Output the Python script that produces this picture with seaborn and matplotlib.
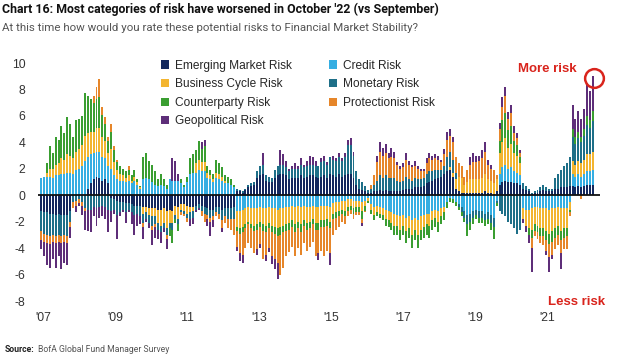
import numpy as np
import pandas as pd
import matplotlib
matplotlib.use("Agg")
import matplotlib.pyplot as plt
from matplotlib.patches import Patch
import seaborn as sns

# ---------------- data (monthly, Jan 2007 - Oct 2022) ----------------
series_names = ["Emerging Market Risk", "Credit Risk", "Business Cycle Risk", "Monetary Risk",
                "Counterparty Risk", "Protectionist Risk", "Geopolitical Risk"]

em = [-1.2, -1.3, -1.3, -1.4, -1.4, -1.5, -1.4, -1.5, -1.5, -1.5,
      -1.2, 0, 0, 0, 0, 0, 0.5, 0.9, 1.2, 1.4,
      1.3, 1.1, 1.2, 0.9, -0.2, -0.3, -0.4, -0.5, -0.5, -0.6,
      -0.6, -0.7, -0.8, -0.8, -0.8, -0.9, -0.9, -1.0, -1.0, -1.0,
      -1.1, -1.1, -1.0, -1.2, -1.1, -1.2, -0.8, -0.9, -0.7, -0.7,
      -0.8, -0.9, -0.9, -0.8, -0.7, -0.8, -0.9, -1.0, -1.1, -1.1,
      -0.9, -0.9, -1.1, -1.0, -1.0, -1.0, -0.9, 0.3, 0.3, 0.2,
      0.4, 0.6, 0.7, 0.8, 1.3, 1.5, 1.6, 1.1, 1.0, 1.0,
      1.3, 1.5, 1.6, 1.6, 1.5, 1.2, 1.3, 1.3, 1.3, 1.5,
      1.3, 1.4, 1.5, 1.5, 1.4, 1.3, 1.4, 1.5, 1.3, 1.6,
      1.5, 1.4, 1.6, 1.4, 1.5, 1.6, 1.6, 1.3, 0.8, 0.5,
      0.4, 0.3, 0.2, 0.2, 0.3, 0.3, 0.4, 0.3, 0.4, 0.3,
      0.3, 0.3, 0.3, 0.3, 0.4, 0.5, 0.5, 0.5, 0.6, 0.6,
      0.6, 0.7, 0.9, 1.0, 1.1, 1.2, 1.3, 1.4, 1.6, 1.8,
      1.9, 1.4, 0.5, 0.3, 0.2, 0.2, 0.2, 0.2, 0.2, 0.2,
      0.2, 0.2, 0.3, 0.2, 0.2, 0.1, 0.3, 0.8, 1.0, 1.1,
      1.0, 1.0, 0.9, 0.9, 0.8, 0.5, 0.4, 0.3, 0.1, 0.2,
      0.2, 0.3, 0.4, 0.3, 0.3, 0.3, 0.5, 0.5, 0.6, 0.6,
      0.6, 0.7, 0.7, 0.6, 0.7, 0.6, 0.7, 0.8, 0.8, 0.8]

credit = [1.3, 1.4, 1.4, 1.4, 1.3, 1.5, 1.5, 1.6, 1.6, 1.7,
          1.7, 1.6, 1.9, 2.0, 2.2, 2.6, 2.4, 2.2, 2.0, 1.9,
          2.0, 1.8, 1.6, 1.3, 2.0, 1.5, 1.2, 1.1, 1.1, 1.0,
          1.1, 0.9, 1.1, 0.8, 0.5, 1.2, 1.3, 1.2, 1.0, 0.8,
          0.7, 0.8, 0.7, 0.5, 1.2, 1.1, 1.1, 1.1, 0.9, 0.6,
          1.0, 1.6, 1.7, 1.7, 1.9, 1.8, 1.8, 1.3, 1.2, 1.0,
          1.3, 1.2, 1.1, 0.9, 0.9, 0.8, 0.6, -1.2, -1.2, -1.1,
          -1.0, -0.9, -1.0, -1.0, -1.0, -0.9, -1.0, -1.0, -0.9, -1.0,
          -1.0, -1.1, -1.0, -1.0, -0.9, -0.9, -0.8, -0.9, -0.8, -0.9,
          -0.8, -0.9, -0.9, -0.8, -0.9, -0.9, -0.8, -0.8, -0.8, -0.9,
          -0.6, -0.5, -0.5, -0.4, -0.4, -0.3, -0.3, -0.4, -0.4, -0.4,
          -0.5, -0.4, -0.2, -0.7, -0.9, -0.8, -0.9, -1.0, -1.1, -1.2,
          -1.3, -1.4, -1.5, -1.6, -1.5, -1.7, -1.6, -1.9, -1.7, -1.9,
          -1.6, -1.5, -1.4, -1.4, -1.2, -1.1, -1.2, -1.0, -0.9, -0.5,
          -0.2, -0.3, -0.5, -0.7, -0.9, -1.2, -1.5, -1.4, -1.2, -1.1,
          -1.2, -1.2, -1.4, -1.3, -1.5, -1.7, -0.4, 0.8, 1.1, 1.2,
          1.0, 1.1, 0.9, 0.8, 0.7, -1.0, -1.1, -1.1, -1.0, -0.9,
          -0.9, -1.0, -1.0, -1.0, -1.1, -1.0, -1.0, -0.9, -1.0, -1.0,
          -1.0, -0.5, 0.9, 0.8, 0.9, 0.8, 0.9, 1.0, 1.0, 1.1]

business = [0, 0, 0.3, 0.6, 0.7, 0.8, 0.9, 1.2, 1.1, 1.4,
            1.3, 1.2, 1.4, 1.5, 1.6, 1.9, 1.8, 1.7, 1.6, 1.8,
            1.8, 1.5, 1.3, 1.0, 1.5, 1.0, 0.7, 0.5, 0.4, 0.3,
            0.4, 0.2, 0.3, 0.2, 0.1, -0.5, -0.4, -0.5, -0.6, -0.6,
            -1.0, -1.2, -1.1, -1.3, -1.0, -0.9, -0.7, -0.9, -0.4, -0.5,
            -0.6, -0.4, -0.3, 0.7, 0.8, 0.7, 0.7, 0.4, 0.3, 0.2,
            0.4, 0.4, 0.3, 0.2, 0, 0, 0, -1.2, -1.3, -1.3,
            -1.2, -1.1, -1.2, -1.3, -1.2, -1.1, -1.2, -1.3, -1.2, -1.3,
            -1.4, -1.4, -1.4, -1.3, -1.3, -1.2, -1.1, -1.3, -1.2, -1.3,
            -1.1, -1.2, -1.1, -1.0, -1.2, -1.2, -1.1, -1.1, -1.0, -1.1,
            -0.8, -0.8, -0.7, -0.7, -0.8, -0.6, -0.5, -0.6, -0.5, -0.5,
            -0.7, -0.4, -0.2, -0.4, -0.6, -0.5, -0.5, -0.5, -0.7, -0.7,
            -0.8, -0.9, -0.8, -1.0, -0.8, -1.0, -0.9, -1.1, -0.9, -1.1,
            -1.0, -0.9, -0.8, -0.9, -0.7, -0.6, -0.8, -0.6, -0.4, 0,
            0.2, 0.3, 0.7, 1.1, 1.1, 0.6, 0.8, 1.0, 1.0, 1.0,
            1.0, 1.1, 1.3, 1.0, 0.9, 0.8, 0.9, 1.6, 1.9, 2.0,
            1.6, 1.8, 1.4, 1.3, 0.9, -0.8, -1.2, -1.4, -1.6, -1.3,
            -1.4, -1.5, -1.5, -1.7, -1.8, -1.7, -1.5, -1.4, -1.7, -1.5,
            -1.5, -0.6, 1.0, 0.9, 1.0, 1.0, 1.1, 1.3, 1.3, 1.4]

monetary = [-1.5, -1.6, -1.7, -1.7, -1.6, -1.6, -1.6, -1.6, -1.5, -1.6,
            -0.8, -0.5, -0.4, -0.3, -0.5, -1.0, -1.1, -1.1, -0.9, -1.0,
            -0.9, -0.8, -0.9, -1.1, -1.0, -0.8, -1.1, -0.8, -0.6, -0.7,
            -0.5, -0.6, -0.7, -0.6, -0.8, -0.7, -0.5, -0.6, -0.7, -0.6,
            -0.5, -0.5, -0.4, -0.5, -0.4, -0.5, -0.3, -0.4, -0.2, -0.2,
            -0.3, -0.5, -0.5, -0.3, -0.3, -0.4, -0.5, -0.5, -0.6, -0.5,
            -0.4, -0.5, -0.8, -0.6, -0.8, -0.8, -0.9, 0.2, 0.1, 0.1,
            0.1, 0.2, 0.2, 0.2, 0.5, 0.7, 0.7, 0.4, 0.4, 0.3,
            0.6, 0.7, 0.7, 0.7, 0.6, 0.6, 0.7, 0.7, 0.7, 0.8,
            0.8, 0.8, 0.8, 0.8, 0.8, 0.9, 1.1, 1.1, 1.0, 1.3,
            1.2, 1.2, 1.3, 1.2, 1.4, 2.2, 2.2, 1.7, 1.0, 0.7,
            0.6, 0.4, 0.2, 0.3, 0.5, 0.8, 1.1, 1.0, 1.1, 1.0,
            1.0, 1.0, 0.8, 0.7, 0.7, 0.9, 0.7, 0.6, 0.7, 0.6,
            0.6, 0.6, 0.7, 0.8, 0.7, 0.7, 0.6, 0.5, 0.6, 1.1,
            1.2, 1.0, 0.5, -0.2, -0.4, -0.5, -0.7, -0.6, -0.5, -0.4,
            -0.5, -0.5, -0.5, -0.5, -0.6, -0.7, -0.2, -1.2, -1.4, -1.6,
            -2.0, -2.2, -2.5, -2.9, -2.6, 0.4, 0.3, 0.2, 0.1, 0.1,
            0.2, 0.3, 0.4, 0.3, 0.2, 0.2, 0.8, 1.1, 1.3, 1.6,
            1.8, 2.2, 1.8, 1.6, 1.7, 1.6, 1.8, 2.2, 2.0, 2.3]

counterparty = [0, 0, 0.7, 1.7, 1.2, 2.1, 1.8, 2.4, 2.0, 2.8,
                2.4, 1.6, 2.4, 2.3, 2.2, 3.2, 2.8, 2.5, 2.2, 2.2,
                2.3, 1.7, 1.3, 0.9, 1.3, 0.9, 0.6, 0.6, 0.5, 0.5,
                0.4, 0.4, 0.5, 0.2, 0.1, 1.7, 1.9, 1.4, 1.3, 1.0,
                0.5, 0.8, 0.5, 0.3, -0.6, -1.0, -0.3, -0.5, 0.3, 0.2,
                0.4, 1.2, 1.4, 1.0, 1.4, 1.0, 1.2, 0.5, 0.4, 0.4,
                1.0, 0.8, 0.7, 0.4, 0.5, 0.4, 0.2, -0.3, -0.4, -0.4,
                -0.3, -0.2, -0.3, -0.4, -0.4, -0.4, -0.5, -0.5, -0.4, -0.5,
                -0.5, -0.6, -0.6, -0.5, -0.5, -0.5, -0.5, -0.6, -0.5, -0.6,
                -0.4, -0.5, -0.5, -0.4, -0.5, -0.5, -0.5, -0.5, -0.5, -0.5,
                -0.4, -0.4, -0.4, -0.3, -0.4, -0.3, -0.3, -0.4, -0.4, -0.4,
                -0.6, -0.4, -0.2, -0.3, -0.4, -0.3, -0.3, -0.4, -0.5, -0.5,
                -0.5, -0.7, -0.7, -0.8, -0.7, -0.9, -0.7, -1.0, -0.8, -1.0,
                -0.8, -0.8, -0.8, -0.9, -0.7, -0.7, -0.8, -0.6, -0.6, -0.5,
                -0.3, -0.3, -0.3, -0.2, -0.3, -0.3, -0.9, -0.6, -0.5, -0.3,
                -0.4, -0.4, -0.4, -0.4, -0.5, -0.9, -0.2, 0.9, 1.7, 1.9,
                1.3, 1.3, 0.9, 0.8, 0.5, 0, 0, -0.5, -0.6, -0.5,
                -0.5, -0.6, -0.6, -0.7, -0.8, -0.8, -0.7, -0.7, -0.7, -0.7,
                -0.6, -0.2, 0.6, 0.5, 0.5, 0.4, 0.5, 0.7, 0.6, 0.8]

protectionist = [-0.7, -0.6, -0.6, -0.6, -0.5, -0.5, -0.5, -0.5, -0.5, -0.5,
                 -0.4, -0.5, -0.4, -0.3, -0.3, -0.2, 0, 0, 0.5, 0.9,
                 1.4, 0.6, 0.5, 0.3, 0.6, 0.3, 0.2, 0, 0, 0,
                 0.3, 0, 0, 0, 0, -0.3, 0, 0, -0.3, -0.2,
                 0, 0, 0, -0.3, 0, 0, 0, 0, -0.2, -0.2,
                 -0.3, 0, 0, 0, 0, -0.4, -0.6, -0.3, -0.3, -0.3,
                 -0.3, -0.4, -0.6, -0.5, -0.7, -0.8, -1.2, -1.2, -1.5, -1.7,
                 -1.5, -1.4, -1.5, -1.7, -1.5, -1.3, -2.1, -1.7, -1.5, -1.8,
                 -1.9, -2.0, -3.0, -2.7, -1.9, -1.7, -1.5, -1.8, -1.5, -1.7,
                 -1.3, -1.6, -1.4, -1.3, -2.0, -1.8, -1.8, -2.2, -1.9, -1.9,
                 -1.2, -0.9, -0.8, -0.6, -0.6, -0.4, -0.3, -0.4, -0.2, -0.2,
                 -0.3, -0.1, 0, 0.3, 0.7, 1.4, 1.8, 1.7, 1.7, 1.5,
                 1.6, 1.5, 1.2, 1.0, 1.0, 1.3, 1.1, 1.0, 0.9, 0.8,
                 0.6, 0.5, 0.8, 1.0, 0.9, 0.9, 0.8, 0.6, 0.9, 1.3,
                 1.2, 1.3, 1.2, 1.0, 0.9, 0.6, 0.9, 1.1, 1.3, 1.3,
                 1.4, 1.5, 1.7, 1.1, 0.9, 1.0, 0.3, 0.9, 1.0, 1.3,
                 0.9, 1.0, 0.6, 0.5, 0.3, 0, 0, 0, -0.8, -0.4,
                 -0.5, -0.5, -0.7, -0.8, -1.0, -1.0, -0.9, -0.8, -1.0, -0.9,
                 -1.0, -0.3, 0, 0, 0, -0.3, 0, 0, 0, 0]

geopolitical = [-0.7, -1.1, -1.7, -1.8, -1.3, -1.9, -1.1, -2.0, -1.6, -1.7,
                -0.8, 0, -0.5, -0.2, -0.7, -1.4, -1.6, -1.7, -0.7, -1.3,
                -0.8, -0.8, -0.9, -1.7, -0.8, -0.3, -1.8, -0.3, -0.2, -0.8,
                -0.2, -0.9, -1.5, -0.9, -0.6, -0.9, -0.2, -0.4, -1.2, -0.8,
                -0.7, -0.8, -0.3, -0.8, 0, 1.7, 1.5, 0.5, 0, 0,
                0, -0.5, -0.5, -0.2, -0.1, 0.5, 0.5, -0.5, -1.1, -0.5,
                0, 0, -0.3, 0, 0, 0, 0, -0.3, -0.6, -0.6,
                0, 0, 0, 0, -0.4, -0.3, 0.9, -0.5, -0.3, -0.6,
                -0.8, -1.2, 1.1, 0.8, 0.5, 0.2, 0.2, 0.4, 0.2, 0.5,
                0.2, 0.4, 0.7, 0.6, 0.4, -0.5, 0.3, 0.4, 0.2, -0.9,
                0.3, 0.2, 0.3, 0.2, 0.3, 0.4, 0.5, 0.3, 0, 0,
                -0.2, 0, 0, 0, 0, 0.5, 0.7, 0.6, 0.7, 0.4,
                0.7, 0.5, 0.2, 0.2, 0.3, 0.5, 0.3, 0.2, 0.4, 0.2,
                0.2, 0.2, 0.4, 0.4, 0.3, 0.3, 0.3, 0.2, 0.4, 0.6,
                0.5, 0.4, 0, 0, 0, 0, 0, 0.6, 0.7, 0.5,
                0.4, 0.6, 0.7, 0.4, 0.3, 0, 0, 0.5, 0.7, 0.7,
                0.5, 0.6, 0.5, 0.4, 0.2, -0.3, -0.5, -0.6, -1.8, 0,
                0, 0, 0, -0.3, -1.1, -0.3, 0, 0, -1.2, 0,
                0, 0, 1.8, 1.4, 1.6, 1.4, 1.5, 2.5, 2.2, 2.6]

year_labels = ["'07", "'09", "'11", "'13", "'15", "'17", "'19", "'21"]
year_positions = [0.7, 25.3, 50.0, 74.7, 99.3, 124.0, 148.6, 173.3]
y_ticks = [-8, -6, -4, -2, 0, 2, 4, 6, 8, 10]

colors = ["#13285e", "#35aee2", "#f3b530", "#1e6f88", "#3a9e31", "#e6862a", "#5e2e79"]

# ---------------- figure ----------------
sns.set_theme(style="white")
plt.rcParams["font.family"] = ["Liberation Sans", "DejaVu Sans"]
plt.rcParams["axes.unicode_minus"] = False

fig = plt.figure(figsize=(6.17, 3.59), dpi=100)
ax = fig.add_axes([38 / 617, 1 - 301 / 359, (600 - 38) / 617, (301 - 63) / 359])

data = np.array([em, credit, business, monetary, counterparty, protectionist, geopolitical], dtype=float)
n = data.shape[1]
idx = np.arange(n)
pos_cum = np.cumsum(np.clip(data, 0, None), axis=0)
neg_cum = np.cumsum(np.clip(data, None, 0), axis=0)

for k in range(6, -1, -1):
    for cum in (pos_cum, neg_cum):
        df = pd.DataFrame({"x": idx, "y": cum[k]})
        sns.barplot(data=df, x="x", y="y", color=colors[k], saturation=1, width=0.68,
                    errorbar=None, linewidth=0, ax=ax)

ax.axhline(0, color="#111111", lw=1.3, zorder=10)
ax.set_xlim(-1.03, 191.4)
ax.set_ylim(-8, 10)
ax.set_yticks(y_ticks)
ax.set_yticklabels([str(t) for t in y_ticks], fontsize=8.8, color="#333333")
ax.set_xticks(year_positions)
ax.set_xticklabels(year_labels, fontsize=8.8, color="#333333")
ax.tick_params(axis="both", length=0)
ax.tick_params(axis="y", pad=9)
ax.tick_params(axis="x", pad=8)
ax.set_xlabel("")
ax.set_ylabel("")
for s in ax.spines.values():
    s.set_visible(False)
ax.grid(False)

# red circle + annotations
ax.plot([189.2], [8.9], marker="o", markersize=13.5, markerfacecolor="none",
        markeredgecolor="#d9241c", markeredgewidth=1.8, zorder=12, clip_on=False)
fig.text(547 / 617, 1 - 69 / 359, "More risk", color="#d9241c", fontsize=9.5,
         fontweight="bold", ha="center", va="center")
fig.text(577 / 617, 1 - 302 / 359, "Less risk", color="#d9241c", fontsize=9.5,
         fontweight="bold", ha="center", va="center")

# legend (row-wise order like the original)
order = [0, 2, 4, 6, 1, 3, 5]
handles = [Patch(facecolor=colors[k], edgecolor="none", label=series_names[k]) for k in order]
fig.legend(handles=handles, ncol=2, loc="upper left", bbox_to_anchor=(156 / 617, 1 - 55 / 359),
           frameon=False, fontsize=8.6, handlelength=0.7, handleheight=0.7, handletextpad=0.5,
           columnspacing=3.1, labelspacing=0.55, borderaxespad=0)

# titles
tfont = ["Roboto", "DejaVu Sans"]
fig.text(0.003, 1 - 3 / 359, "Chart 16: Most categories of risk have worsened in October '22 (vs September)",
         fontsize=8.9, fontweight="bold", family=tfont, ha="left", va="top", color="#111111")
fig.text(0.003, 1 - 23 / 359, "At this time how would you rate these potential risks to Financial Market Stability?",
         fontsize=8.25, family=tfont, ha="left", va="top", color="#555555")
src = fig.text(0.008, 1 - 350 / 359, "Source:", fontsize=6.2, fontweight="bold", family=tfont,
               ha="left", va="center", color="#222222")
renderer = fig.canvas.get_renderer()
bb = src.get_window_extent(renderer)
fig.text((bb.x1 + 3) / fig.bbox.width, 1 - 350 / 359, "BofA Global Fund Manager Survey", fontsize=6.2,
         family=tfont, ha="left", va="center", color="#555555")

fig.savefig("out.png", dpi=100)
